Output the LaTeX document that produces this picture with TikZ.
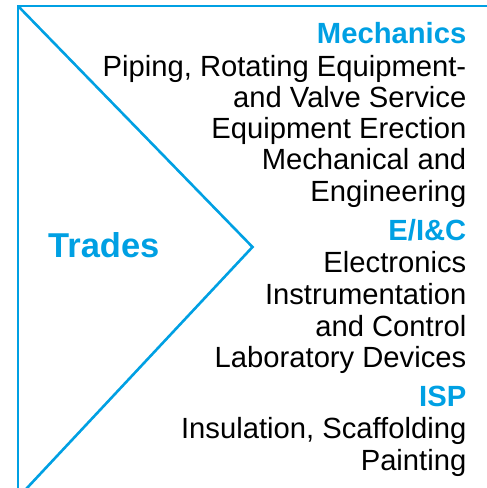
\documentclass[tikz,border=0pt]{standalone}
\usepackage{fontspec}
\setmainfont{Liberation Sans}
\definecolor{tradeblue}{RGB}{0,160,227}
\tikzset{
  frameline/.style={draw=tradeblue, line width=2.6pt},
  head/.style={anchor=base east, inner sep=0pt, text=tradeblue, font=\fontsize{29.2}{31}\selectfont\bfseries},
  item/.style={anchor=base east, inner sep=0pt, text=black, font=\fontsize{29.2}{31}\selectfont},
  title/.style={anchor=base west, inner sep=0pt, text=tradeblue, font=\fontsize{34.5}{37}\selectfont\bfseries}
}
\begin{document}
\begin{tikzpicture}[x=1pt,y=1pt]
\useasboundingbox (0,0) rectangle (487,-488);
\clip (0,0) rectangle (487,-488);
\coordinate (tl) at (18,-6);
\coordinate (tr) at (495,-6);
\coordinate (bl) at (18,-495);
\coordinate (apex) at (252.5,-247);
\coordinate (bd) at (20.5,-495);
\draw[frameline] (tr) -- (tl) -- (bl);
\draw[frameline, line join=miter] (tl) -- (apex) -- (bd);
\node[title] (trades) at (48,-257) {Trades};
\def\rx{466.5}
\node[head] (mech) at (\rx,-43.5) {Mechanics};
\node[item] (m1) at (\rx,-76) {Piping, Rotating Equipment-};
\node[item] (m2) at (\rx,-107) {and Valve Service};
\node[item] (m3) at (\rx,-138) {Equipment Erection};
\node[item] (m4) at (\rx,-169.5) {Mechanical and};
\node[item] (m5) at (\rx,-201) {Engineering};
\node[head] (eic) at (\rx,-240) {E/I\&C};
\node[item] (e1) at (\rx,-272) {Electronics};
\node[item] (e2) at (\rx,-304) {Instrumentation};
\node[item] (e3) at (\rx,-336) {and Control};
\node[item] (e4) at (\rx,-367) {Laboratory Devices};
\node[head] (isp) at (\rx,-406.5) {ISP};
\node[item] (i1) at (\rx,-438.5) {Insulation, Scaffolding};
\node[item] (i2) at (\rx,-470) {Painting};
\end{tikzpicture}
\end{document}
